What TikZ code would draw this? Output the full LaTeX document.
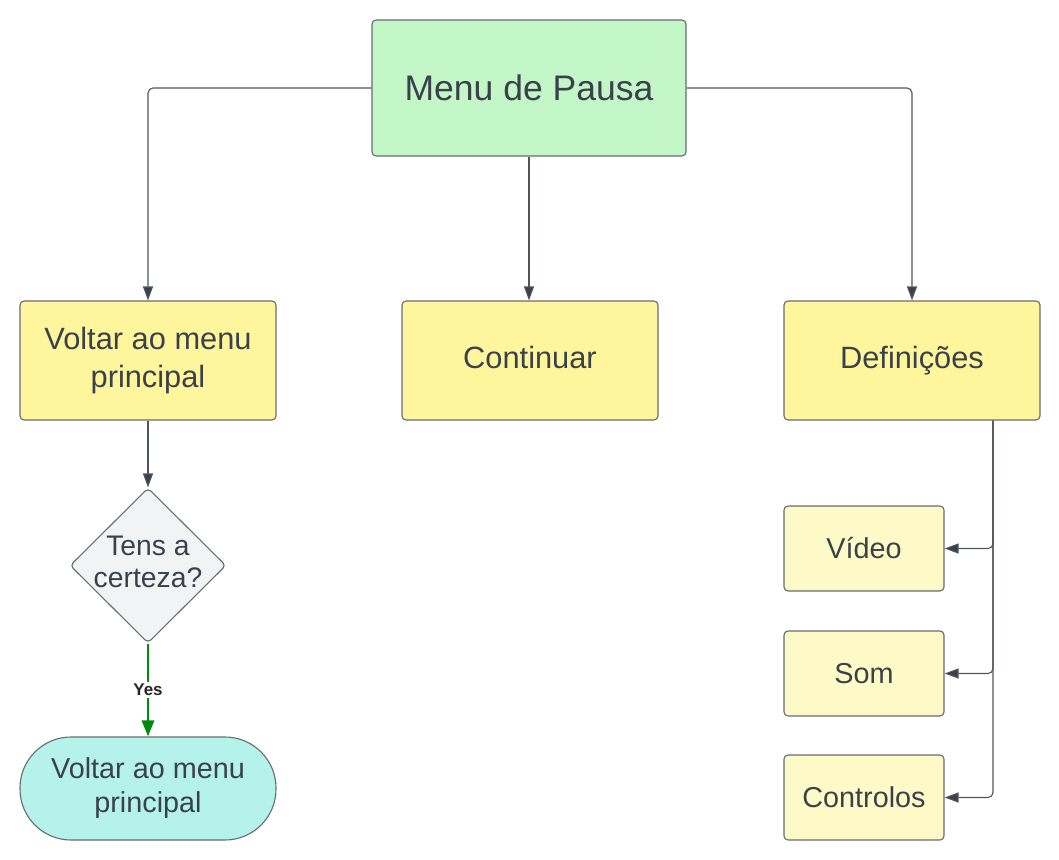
\documentclass[tikz,border=0pt]{standalone}
\usepackage{fontspec}
\setmainfont{Liberation Sans}
\usetikzlibrary{arrows.meta,shapes.geometric}
\definecolor{txt}{HTML}{3A414A}
\definecolor{bord}{HTML}{676B72}
\definecolor{ln}{HTML}{50555D}
\definecolor{fgreen}{HTML}{C3F7C8}
\definecolor{fyel}{HTML}{FFF59D}
\definecolor{fyel2}{HTML}{FDFAC8}
\definecolor{fgray}{HTML}{F2F3F5}
\definecolor{fcyan}{HTML}{B5F3EA}
\definecolor{ygreen}{HTML}{008A0E}
\begin{document}
\begin{tikzpicture}[x=1bp,y=-1bp,
  box/.style={draw=bord, line width=1.1bp, rounded corners=4bp, text=txt, align=center, inner sep=0pt,
    font=\fontsize{28.8bp}{34bp}\selectfont},
  mainbox/.style={box, fill=fyel, minimum width=256bp, minimum height=119bp, font=\fontsize{30.8bp}{38bp}\selectfont},
  subbox/.style={box, fill=fyel2, minimum width=160bp, minimum height=85bp},
  arr/.style={draw=ln, line width=1.1bp, rounded corners=5bp, -{Triangle[length=14bp,width=10bp,fill=txt]}},
  garr/.style={draw=ygreen, line width=2.8bp, -{Triangle[length=16bp,width=12bp]}}
]
\useasboundingbox (0,0) rectangle (1059,860);
\node[box, fill=fgreen, minimum width=314bp, minimum height=136bp, font=\fontsize{35.5bp}{42bp}\selectfont] (menu) at (529,88) {Menu de Pausa};
\node[mainbox] (voltar) at (148,360.5) {Voltar ao menu\\principal};
\node[mainbox] (cont) at (530,360.5) {Continuar\vphantom{\c{c}}};
\node[mainbox] (def) at (912,360.5) {Defini\c{c}\~oes};
\node[diamond, draw=bord, fill=fgray, line width=1.1bp, rounded corners=4bp, minimum width=156bp, minimum height=155bp, inner sep=0pt, text=txt, font=\fontsize{28.3bp}{32bp}\selectfont] (dec) at (148,565.5) {\makebox[0pt]{\begin{tabular}{@{}c@{}}Tens a\\certeza?\end{tabular}}};
\node[box, fill=fcyan, rounded corners=51bp, minimum width=256bp, minimum height=103bp] (term) at (148,788.5) {Voltar ao menu\\principal};
\node[subbox] (video) at (864,548.5) {V\'ideo};
\node[subbox] (som) at (864,673.5) {Som};
\node[subbox] (ctrl) at (864,797.5) {Controlos};
\draw[arr] (menu.west) -| (voltar.north);
\draw[arr] (menu.east) -| (def.north);
\draw[arr] (menu.south) -- (menu.south |- cont.north);
\draw[arr] (voltar.south) -- (dec.north);
\draw[garr] (dec.south) -- node[fill=white, text=black!85, font=\bfseries\fontsize{17bp}{18bp}\selectfont, inner sep=2bp] (yes) {Yes} (term.north);
\draw[arr] ([xshift=81bp]def.south) |- (video.east);
\draw[arr] ([xshift=81bp]def.south) |- (som.east);
\draw[arr] ([xshift=81bp]def.south) |- (ctrl.east);
\end{tikzpicture}
\end{document}
